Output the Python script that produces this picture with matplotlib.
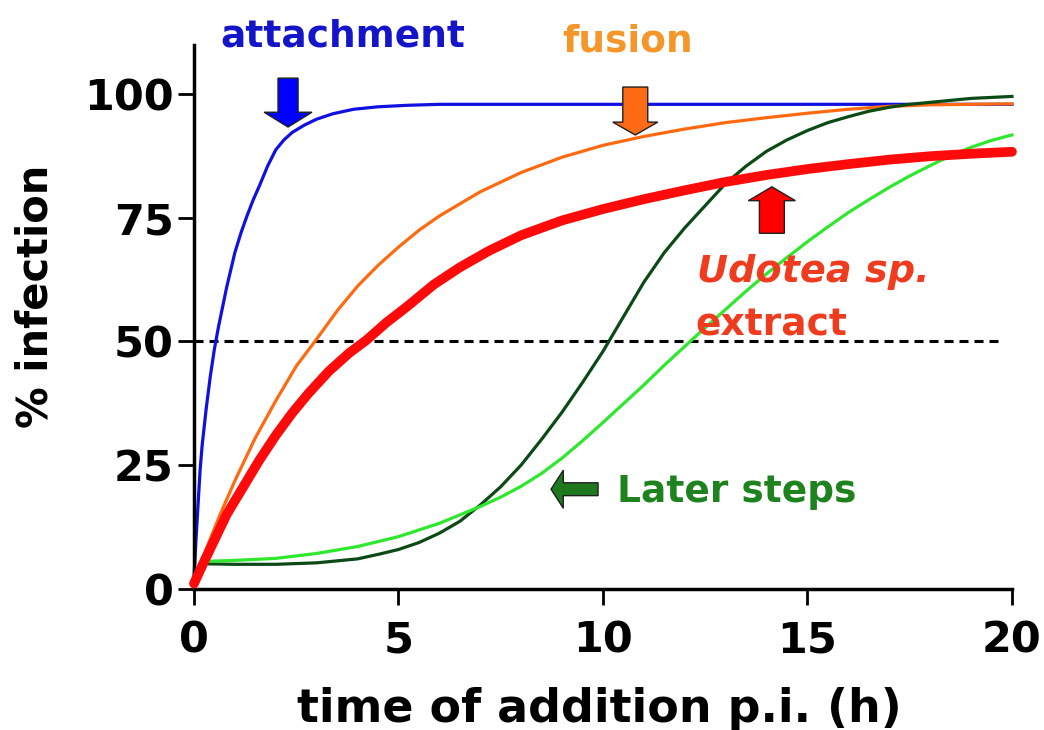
import matplotlib
matplotlib.use("Agg")
import matplotlib.pyplot as plt
from matplotlib.patches import FancyArrow

plt.rcParams['font.family'] = ['DejaVu Sans']
plt.rcParams['font.weight'] = 'bold'
plt.rcParams['lines.scale_dashes'] = False

# time of addition (h) and % infection
attach_x = [0, 0.05, 0.1, 0.15, 0.2, 0.3, 0.4, 0.5, 0.6, 0.7, 0.8, 0.9, 1.0, 1.15,
            1.3, 1.45, 1.6, 1.8, 2.0, 2.2, 2.4, 2.7, 3.0, 3.4, 3.9, 4.5, 5.2, 6, 7,
            8, 10, 15, 20]
attach_y = [2, 10, 17, 24, 29, 36.5, 43, 48.5, 53, 57, 61, 64.5, 68, 72,
            75.5, 78.7, 81.5, 85.5, 88.8, 90.8, 92.3, 93.8, 95, 96.1, 97, 97.5, 97.8, 98, 98,
            98, 98, 98, 98]

fusion_x = [0, 0.3, 0.64, 1.0, 1.5, 2.0, 2.5, 3.0, 3.5, 4.0, 4.5, 5.0, 5.5, 6.0,
            7, 8, 9, 10, 11, 12, 13, 14, 15, 16, 17, 18, 19, 20]
fusion_y = [1, 8, 15, 21.8, 30.5, 38, 45, 50.5, 56.2, 61.2, 65.4, 69.1, 72.5, 75.4,
            80.3, 84.2, 87.3, 89.7, 91.5, 93, 94.3, 95.3, 96.2, 97, 97.6, 97.9, 98, 98.1]

udotea_x = [0, 0.25, 0.5, 0.8, 1.2, 1.6, 2.0, 2.4, 2.8, 3.3, 3.8, 4.22, 4.7, 5.2,
            5.86, 6.5, 7.2, 8, 9, 10, 11, 12, 13, 14, 15, 16, 17, 18, 19, 20]
udotea_y = [1, 5.5, 9.8, 15, 20.5, 26, 31, 35.5, 39.5, 44, 47.7, 50.3, 53.8, 57,
            61.5, 65, 68.3, 71.5, 74.5, 76.8, 78.8, 80.6, 82.3, 83.7, 84.9, 85.9, 86.8,
            87.5, 88, 88.4]

late1_x = [0.3, 1, 2, 3, 4, 4.55, 5, 5.5, 6, 6.5, 7, 7.5, 8, 8.5, 9, 9.5, 10, 10.5,
           11, 11.5, 12, 12.5, 13, 13.5, 14, 14.5, 15, 15.5, 16, 16.5, 17, 17.5, 18,
           18.5, 19, 19.5, 20]
late1_y = [5, 4.9, 4.9, 5.2, 6, 7, 7.9, 9.3, 11.2, 13.6, 16.9, 20.6, 25, 30.2, 35.7,
           41.7, 48, 55, 62, 68, 73, 77.5, 82, 85.5, 88.5, 90.8, 92.7, 94.3, 95.5,
           96.6, 97.4, 98, 98.4, 98.8, 99.2, 99.4, 99.6]

late2_x = [0.3, 1, 2, 3, 4, 5, 6, 7, 7.5, 8, 8.5, 9, 9.5, 10, 10.5, 11, 11.5, 12,
           12.5, 13, 13.5, 14, 14.5, 15, 15.5, 16, 16.5, 17, 17.5, 18, 18.5, 19,
           19.5, 20]
late2_y = [5.5, 5.7, 6.1, 7.1, 8.5, 10.5, 13.2, 16.6, 18.5, 20.7, 23.3, 26.4, 29.9,
           33.6, 37.4, 41.2, 45.2, 49, 52.8, 56.5, 60.2, 63.7, 67, 70.2, 73.2, 76.1,
           78.7, 81.2, 83.5, 85.6, 87.6, 89.3, 90.7, 91.8]

half_x = [0, 19.8]
half_y = [50, 50]

xticks = [0, 5, 10, 15, 20]
yticks = [0, 25, 50, 75, 100]

fig = plt.figure(figsize=(10.44, 7.30), dpi=100)
ax = fig.add_axes([0.1858, 0.1938, 0.7835, 0.7445])

ax.plot(half_x, half_y, color='black', lw=2.2, dashes=(6.5, 4.3), zorder=1)
ax.plot(attach_x, attach_y, color='#1010e0', lw=2.3, zorder=2, clip_on=False)
ax.plot(fusion_x, fusion_y, color='#ff6a10', lw=2.3, zorder=2, clip_on=False)
ax.plot(late1_x, late1_y, color='#0b4a14', lw=2.3, zorder=3, clip_on=False)
ax.plot(late2_x, late2_y, color='#2ee82e', lw=2.3, zorder=3, clip_on=False)
ax.plot(udotea_x, udotea_y, color='#ff0a0a', lw=7, zorder=4,
        solid_capstyle='round', clip_on=False)

ax.set_xlim(0, 20)
ax.set_ylim(0, 110)
ax.set_xticks(xticks)
ax.set_yticks(yticks)
for side in ['top', 'right']:
    ax.spines[side].set_visible(False)
for side in ['left', 'bottom']:
    ax.spines[side].set_linewidth(2.5)
ax.tick_params(length=11.5, width=2, labelsize=31)
ax.tick_params(axis='y', pad=3)
ax.tick_params(axis='x', pad=11)

ax.set_xlabel('time of addition p.i. (h)', fontsize=33, fontweight='bold')
ax.xaxis.label.set_va('baseline')
ax.xaxis.set_label_coords(0.496, -0.2456)
ax.set_ylabel('% infection', fontsize=30, fontweight='bold')
ax.yaxis.label.set_va('center')
ax.yaxis.set_label_coords(-0.194, 0.537)

# arrows
arrows = [
    (2.3, 103.3, 0, -9.9, 0.49, 1.17, 3.0, '#0000ff'),
    (10.79, 101.5, 0, -9.7, 0.61, 1.10, 2.6, '#ff6a14'),
    (14.13, 71.9, 0, 9.4, 0.61, 1.15, 2.8, '#ff0000'),
    (9.88, 20.1, -1.15, 0, 2.6, 7.7, 0.3, '#1e781e'),
]
for x, y, dx, dy, w, hw, hl, c in arrows:
    ax.add_patch(FancyArrow(x, y, dx, dy, width=w, head_width=hw, head_length=hl,
                            length_includes_head=True, facecolor=c,
                            edgecolor='#202020', lw=1, zorder=5, clip_on=False))

ax.text(3.65, 109.7, 'attachment', color='#1414c8', fontsize=27,
        ha='center', va='baseline', clip_on=False)
ax.text(10.6, 108.7, 'fusion', color='#f5962a', fontsize=27,
        ha='center', va='baseline', clip_on=False)
ax.text(12.31, 62.0, 'Udotea sp.', color='#f03c1e', fontsize=27.5,
        fontstyle='italic', ha='left', va='baseline', zorder=6)
ax.text(12.26, 51.3, 'extract', color='#f03c1e', fontsize=27,
        ha='left', va='baseline', zorder=6)
ax.text(10.35, 17.6, 'Later steps', color='#1e821e', fontsize=27,
        ha='left', va='baseline', zorder=6)

fig.savefig('out.png', dpi=100)
